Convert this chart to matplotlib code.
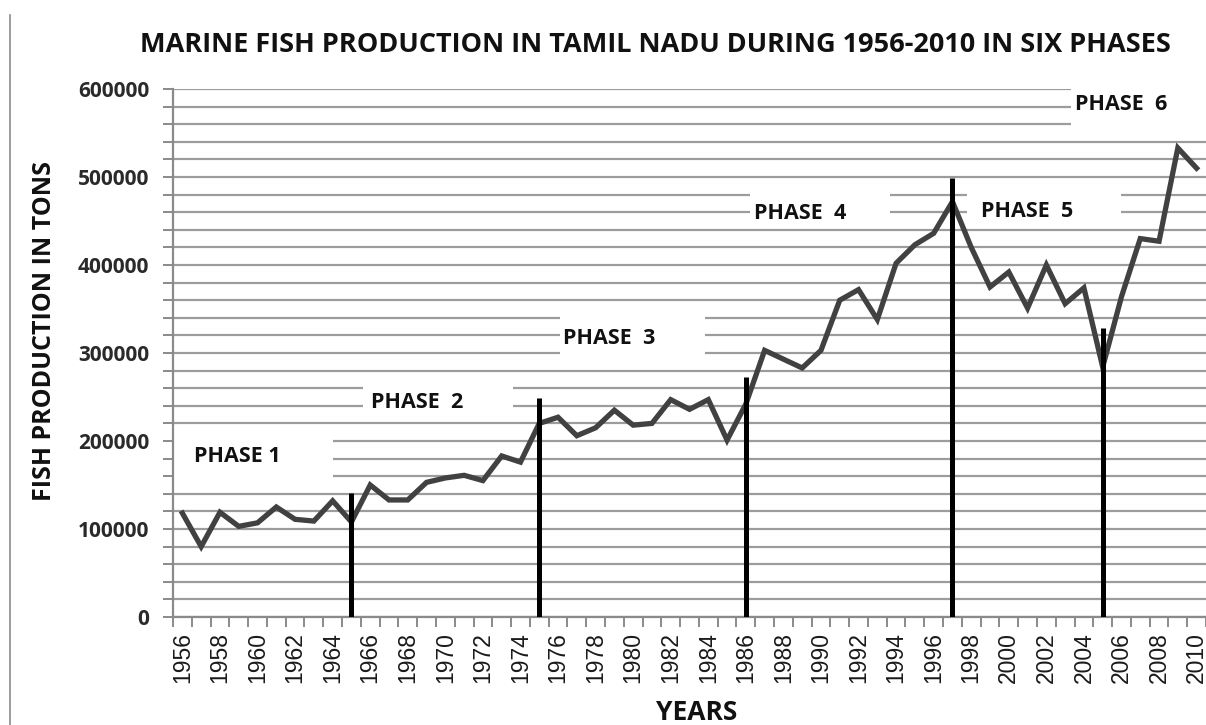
import numpy as np
import matplotlib.pyplot as plt
from matplotlib.lines import Line2D
from matplotlib.patches import Rectangle

# --- Data ---
years = list(range(1956, 2011))
production = [
    118000, 80000, 119000, 103000, 107000, 125000, 111000, 109000, 132000, 108000,   # 1956-1965
    150000, 133000, 133000, 153000, 158000, 161000, 155000, 183000, 176000, 220000,  # 1966-1975
    227000, 206000, 215000, 235000, 218000, 220000, 247000, 236000, 247000, 201000,  # 1976-1985
    242000, 303000, 293000, 283000, 303000, 360000, 372000, 338000, 402000, 423000,  # 1986-1995
    436000, 472000, 420000, 375000, 392000, 351000, 400000, 356000, 374000, 284000,  # 1996-2005
    364000, 430000, 427000, 533000, 510000,                                          # 2006-2010
]
y_major = list(range(0, 600001, 100000))
y_minor = list(range(0, 600001, 20000))

# phase boundaries: year and height of the black marker line
boundary_years = [1965, 1975, 1986, 1997, 2005]
boundary_tops = [141000, 249000, 273000, 499000, 328000]

# phase labels: text, centre year, centre value
phase_labels = ['PHASE 1', 'PHASE  2', 'PHASE  3', 'PHASE  4', 'PHASE  5', 'PHASE  6']
label_x = [1958.9, 1968.5, 1978.7, 1988.9, 2001.0, 2006.0]
label_y = [182000, 244000, 317000, 459000, 461000, 582000]
# white text-box areas behind the labels (x0, x1, y0, y1)
label_boxes = [
    (1955.5, 1964.0, 150000, 212000),
    (1965.6, 1973.6, 228000, 270000),
    (1976.1, 1983.8, 290000, 350000),
    (1986.2, 1993.7, 450000, 490000),
    (1997.8, 2006.0, 450000, 490000),
    (2003.3, 2010.6, 550000, 610000),
]

# --- Plot ---
fig = plt.figure(figsize=(12.06, 7.25), dpi=100)
ax = fig.add_axes([173 / 1206, 1 - 617 / 725, 1 - 173 / 1206, (617 - 89) / 725])

grid_c = '#9c9c9c'
ax.set_xlim(1955.5, 2010.5)
ax.set_ylim(0, 600000)

ax.set_yticks(y_major)
ax.set_yticks(y_minor, minor=True)
ax.set_xticks(years[::2])
ax.set_xticks(np.arange(1955.5, 2011, 1.0), minor=True)
ax.grid(axis='y', which='both', color=grid_c, lw=1.6, zorder=0)
ax.set_axisbelow(True)

for x0, x1, y0, y1 in label_boxes:
    ax.add_patch(Rectangle((x0, y0), x1 - x0, y1 - y0, facecolor='white',
                           edgecolor='none', zorder=1))

ax.plot(years, production, color='#414141', lw=3.8, zorder=3, solid_joinstyle='miter')
ax.vlines(boundary_years, 0, boundary_tops, color='black', lw=3.6, zorder=4)

for txt, x, y in zip(phase_labels, label_x, label_y):
    ax.text(x, y, txt, ha='center', va='center', fontsize=15.5, fontweight='bold',
            family='Open Sans', color='#111111', zorder=5)

for s in ['top', 'right']:
    ax.spines[s].set_visible(False)
for s in ['left', 'bottom']:
    ax.spines[s].set_color('#8a8a8a')
    ax.spines[s].set_linewidth(1.6)

ax.tick_params(axis='y', which='both', direction='out', length=7, width=1.4,
               color='#8a8a8a', pad=10)
ax.tick_params(axis='x', which='major', length=0, pad=11)
ax.tick_params(axis='x', which='minor', direction='out', length=7, width=1.4,
               color='#8a8a8a')
ax.set_yticklabels([str(v) for v in y_major],
                   fontsize=15, fontweight='bold', family='Open Sans', color='#2a2a2a')
ax.set_xticklabels([str(y) for y in years[::2]], rotation=90, fontsize=16.5,
                   family='Liberation Sans', color='#1a1a1a')

fig.text(655 / 1206, 1 - 45 / 725,
         'MARINE FISH PRODUCTION IN TAMIL NADU DURING 1956-2010 IN SIX PHASES',
         ha='center', va='center', fontsize=19.5, fontweight='bold',
         family='Open Sans', color='#111111')
fig.text(45 / 1206, 1 - 331 / 725, 'FISH PRODUCTION IN TONS', rotation=90,
         ha='center', va='center', fontsize=18, fontweight='bold',
         family='Open Sans', color='#111111')
fig.text(697 / 1206, 1 - 713 / 725, 'YEARS', ha='center', va='center',
         fontsize=19, fontweight='bold', family='Open Sans', color='#111111')

# thin page border on the left
fig.add_artist(Line2D([10 / 1206, 10 / 1206], [0, 1 - 15 / 725],
                      transform=fig.transFigure, color='#8a8a8a', lw=1.2))

fig.savefig('out.png', dpi=100, facecolor='white')
